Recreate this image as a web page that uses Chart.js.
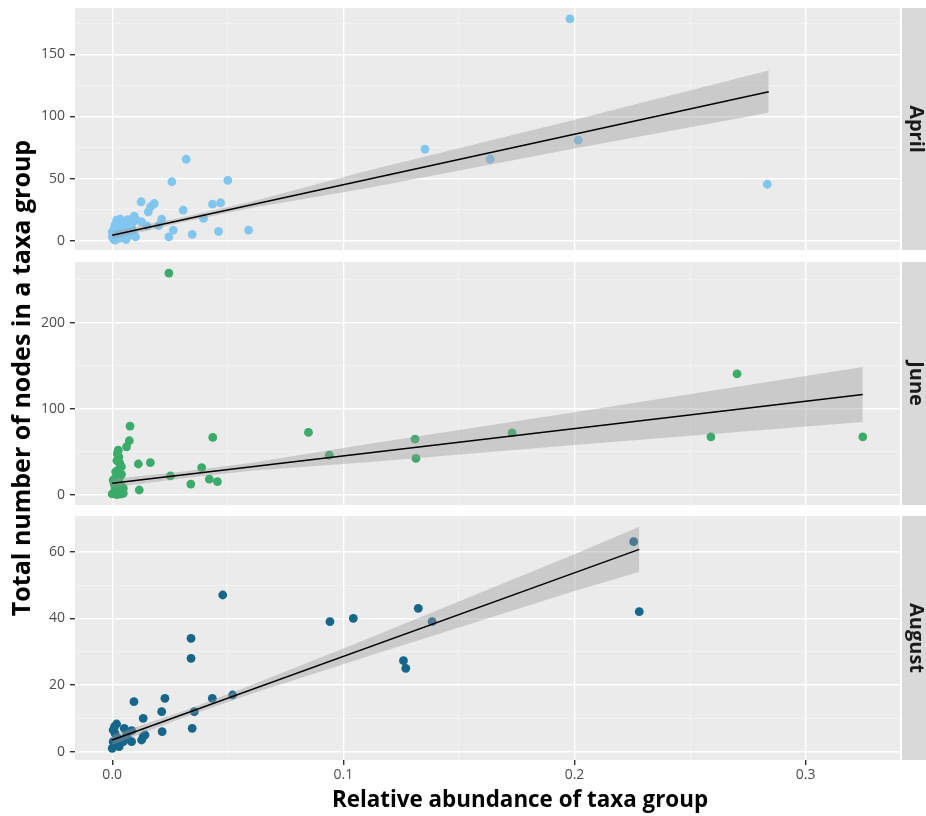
<!DOCTYPE html>
<html>
<head>
<meta charset="utf-8">
<script src="https://cdn.jsdelivr.net/npm/chart.js@4.4.1/dist/chart.umd.min.js"></script>
<style>
  body { margin: 0; background: #fff; width: 926px; height: 816px; overflow: hidden; position: relative; }
  canvas { position: absolute; left: 0; }
  #ytitle { position: absolute; left: -282px; top: 363px; width: 600px; height: 30px; line-height: 30px;
            text-align: center; transform: rotate(-90deg); font: bold 25px "Open Sans"; color: #000; white-space: nowrap; }
  #xtitle { position: absolute; left: 0; top: 783px; width: 1040px; text-align: center;
            font: bold 22.4px "Open Sans"; color: #000; white-space: nowrap; }
</style>
</head>
<body>
<canvas id="april" width="926" height="255" style="top:0px"></canvas>
<canvas id="june" width="926" height="255" style="top:255px"></canvas>
<canvas id="august" width="926" height="306" style="top:510px"></canvas>
<div id="ytitle">Total number of nodes in a taxa group</div>
<div id="xtitle">Relative abundance of taxa group</div>
<script>
// shared x axis
const xMajor = [0, 0.1, 0.2, 0.3];
const xMinor = [0.05, 0.15, 0.25];

// April
const aprilX = [0.198, 0.1353, 0.1635, 0.2016, 0.2834, 0.032, 0.0258, 0.050, 0.0125, 0.0182, 0.0166, 0.0156,
  0.0307, 0.0434, 0.0469, 0.0395, 0.059, 0.046, 0.0346, 0.0264, 0.0245, 0.0214, 0.0201, 0.0095, 0.0105, 0.0101,
  0.0127, 0.015, 0.0012, 0.004, 0.0062, 0.0026, 0.0069, 0, 0.0012, 0.0033, 0.0077, 0, 0.0055, 0.0084, 0.0019,
  0.0005, 0.003, 0.006, 0.009, 0.002, 0.005, 0.0015, 0.0045, 0.0008, 0.0035, 0.0068, 0.0085];
const aprilY = [178.5, 73.8, 65.8, 81, 45.5, 65.6, 47.5, 48.6, 31.4, 30, 27.4, 23.3,
  24.7, 29.5, 30.6, 18, 8.6, 7.5, 5.1, 8.6, 3.2, 17.5, 12.3, 19.9, 16.7, 3.2,
  15.3, 12, 12.6, 15.3, 15.3, 10, 11.3, 3.2, 0.6, 6, 4.6, 7.2, 7.2, 10, 16.7,
  1.5, 2, 1, 6, 13.5, 12, 5, 9, 9.5, 17.5, 17, 14];
const aprilFitX = [0, 0.284];
const aprilFitY = [4.5, 120];
const aprilBandX = [0, 0.03, 0.06, 0.11, 0.2, 0.284];
const aprilBandLo = [1.5, 14.7, 26.4, 42.2, 74.3, 103];
const aprilBandHi = [7.5, 18.7, 31.4, 56.2, 97.3, 137];
const aprilTicks = [0, 50, 100, 150];
const aprilMinor = [25, 75, 125, 175];

// June
const juneX = [0.0245, 0.0077, 0.0074, 0.0062, 0.0435, 0.0849, 0.0939, 0.0113, 0.0165, 0.0387, 0.0252, 0.034,
  0.042, 0.0455, 0.0117, 0.131, 0.1314, 0.173, 0.259, 0.2703, 0.3247, 0.0026, 0.0029, 0.0033, 0.004, 0.0026,
  0.0019, 0.004, 0.0004, 0.0012, 0.0033, 0, 0.0048, 0.002, 0.0015, 0.003, 0.0008, 0.0025, 0.0045, 0.001,
  0.0035, 0.002, 0.0048, 0.0022];
const juneY = [257.6, 80, 63, 56, 66.9, 72.6, 46.3, 36, 37.7, 31.8, 22.2, 12.7,
  18.5, 15.6, 5.8, 64.9, 42.5, 72.2, 67.6, 140.6, 67.6, 52, 44, 36.7, 32.8, 29,
  23, 24, 17.4, 9.6, 5.8, 1.2, 2, 40, 27, 19, 13, 14, 9, 4,
  1, 0.5, 7.7, 48];
const juneFitX = [0, 0.3247];
const juneFitY = [13.6, 116.7];
const juneBandX = [0, 0.03, 0.06, 0.11, 0.2, 0.3247];
const juneBandLo = [8.6, 19.1, 28.2, 38, 58.1, 84.7];
const juneBandHi = [18.6, 27.1, 37.2, 59, 96.1, 148.7];
const juneTicks = [0, 100, 200];
const juneMinor = [50, 150, 250];

// August
const augustX = [0.2256, 0.228, 0.1324, 0.1384, 0.126, 0.127, 0.0942, 0.1043, 0.0478, 0.0341, 0.0341, 0.0094,
  0.0228, 0.0214, 0.0134, 0.0433, 0.0521, 0.0355, 0.0346, 0.0216, 0.0019, 0.0052, 0.0084, 0.0134, 0.0127,
  0.0084, 0.0012, 0.0026, 0.0004, 0, 0.0012, 0.0048, 0.0062, 0.0004, 0.003, 0.001, 0.0142, 0.0066];
const augustY = [63, 42, 43, 39, 27.3, 25, 39, 40, 47, 34, 28, 15,
  16, 12, 10, 16, 17, 12, 7, 6, 8.3, 7, 6.3, 4.5, 3.5,
  3, 5.5, 4, 3, 1, 2, 3, 5, 6.5, 1.5, 7.5, 5, 4];
const augustFitX = [0, 0.228];
const augustFitY = [3.5, 60.7];
const augustBandX = [0, 0.03, 0.06, 0.11, 0.2, 0.228];
const augustBandLo = [2, 10, 17.3, 28.5, 48.2, 53.9];
const augustBandHi = [5, 12, 19.9, 33.7, 59.2, 67.5];
const augustTicks = [0, 20, 40, 60];
const augustMinor = [10, 30, 50, 70];

const FONT = '"Open Sans", "DejaVu Sans", sans-serif';

function zip(xs, ys) {
  return xs.map((x, i) => ({ x: x, y: ys[i] }));
}

function gridTicks(major, minor) {
  return function (scale) {
    scale.ticks = major.map(v => ({ value: v, major: true }))
      .concat(minor.map(v => ({ value: v, major: false })))
      .sort((a, b) => a.value - b.value);
  };
}

// no label overhang, so the panel areas sit exactly where the padding says
function noOverhang(s) {
  s.paddingTop = 0; s.paddingBottom = 0; s.paddingLeft = 0; s.paddingRight = 0;
}

const gridColor = ctx => (ctx.tick && ctx.tick.major ? '#ffffff' : '#f5f5f5');
const gridWidth = ctx => (ctx.tick && ctx.tick.major ? 1.4 : 0.7);
const tickColor = ctx => (ctx.tick && ctx.tick.major ? '#333333' : 'rgba(0,0,0,0)');

const facet = {
  id: 'facet',
  beforeDraw(chart, args, opts) {
    const { ctx, chartArea: a } = chart;
    ctx.save();
    ctx.fillStyle = '#ebebeb';
    ctx.fillRect(a.left, a.top, a.right - a.left, a.bottom - a.top);
    ctx.fillStyle = '#d9d9d9';
    ctx.fillRect(a.right + 2, a.top, chart.width - a.right, a.bottom - a.top);
    ctx.translate(a.right + 16, (a.top + a.bottom) / 2);
    ctx.rotate(Math.PI / 2);
    ctx.fillStyle = '#1a1a1a';
    ctx.font = 'bold 20px ' + FONT;
    ctx.textAlign = 'center';
    ctx.textBaseline = 'middle';
    ctx.fillText(opts.label, 0, 0);
    ctx.restore();
  }
};

function panel(id, p) {
  const bottom = !!p.showX;
  new Chart(document.getElementById(id), {
    type: 'scatter',
    data: {
      datasets: [
        {
          type: 'line', data: zip(p.fitX, p.fitY), borderColor: '#000', borderWidth: 1.5,
          pointRadius: 0, fill: false, order: 0
        },
        {
          type: 'line', data: zip(p.bandX, p.bandHi), borderWidth: 0, borderColor: 'rgba(0,0,0,0)',
          backgroundColor: 'rgba(153,153,153,0.4)', pointRadius: 0, fill: '+1', order: 1
        },
        {
          type: 'line', data: zip(p.bandX, p.bandLo), borderWidth: 0, borderColor: 'rgba(0,0,0,0)',
          pointRadius: 0, fill: false, order: 1
        },
        {
          data: zip(p.x, p.y), backgroundColor: p.color, borderWidth: 0,
          pointRadius: 4.4, order: 2
        }
      ]
    },
    options: {
      responsive: false,
      animation: false,
      layout: { padding: { top: p.padTop, bottom: bottom ? 0 : 5, left: 0, right: 26 } },
      plugins: { legend: { display: false }, tooltip: { enabled: false }, facet: { label: p.label } },
      scales: {
        x: {
          type: 'linear', min: -0.0161, max: 0.3408,
          afterBuildTicks: gridTicks(xMajor, xMinor),
          afterFit: s => { s.height = bottom ? 56 : 0; noOverhang(s); },
          border: { display: false },
          grid: { color: gridColor, lineWidth: gridWidth, tickColor: tickColor, drawTicks: bottom, tickLength: 5 },
          ticks: {
            display: bottom, autoSkip: false, maxRotation: 0, padding: 2,
            color: '#4d4d4d', font: { family: FONT, size: 14 },
            callback: (v, i, t) => (t[i].major ? v.toFixed(1) : '')
          }
        },
        y: {
          type: 'linear', min: p.yMin, max: p.yMax,
          afterBuildTicks: gridTicks(p.ticks, p.minor),
          afterFit: s => { s.width = 75; noOverhang(s); },
          border: { display: false },
          grid: { color: gridColor, lineWidth: gridWidth, tickColor: tickColor, tickLength: 5 },
          ticks: {
            autoSkip: false, padding: 5, color: '#4d4d4d', font: { family: FONT, size: 14 },
            callback: (v, i, t) => (t[i].major ? String(v) : '')
          }
        }
      }
    },
    plugins: [facet]
  });
}

panel('april', {
  label: 'April', color: '#80c6ef', x: aprilX, y: aprilY, fitX: aprilFitX, fitY: aprilFitY,
  bandX: aprilBandX, bandLo: aprilBandLo, bandHi: aprilBandHi, ticks: aprilTicks, minor: aprilMinor,
  yMin: -7.4, yMax: 187.3, padTop: 8
});
panel('june', {
  label: 'June', color: '#3aab69', x: juneX, y: juneY, fitX: juneFitX, fitY: juneFitY,
  bandX: juneBandX, bandLo: juneBandLo, bandHi: juneBandHi, ticks: juneTicks, minor: juneMinor,
  yMin: -11.6, yMax: 270.5, padTop: 7
});
panel('august', {
  label: 'August', color: '#16658a', x: augustX, y: augustY, fitX: augustFitX, fitY: augustFitY,
  bandX: augustBandX, bandLo: augustBandLo, bandHi: augustBandHi, ticks: augustTicks, minor: augustMinor,
  yMin: -2.5, yMax: 70.7, padTop: 6, showX: true
});
</script>
</body>
</html>
